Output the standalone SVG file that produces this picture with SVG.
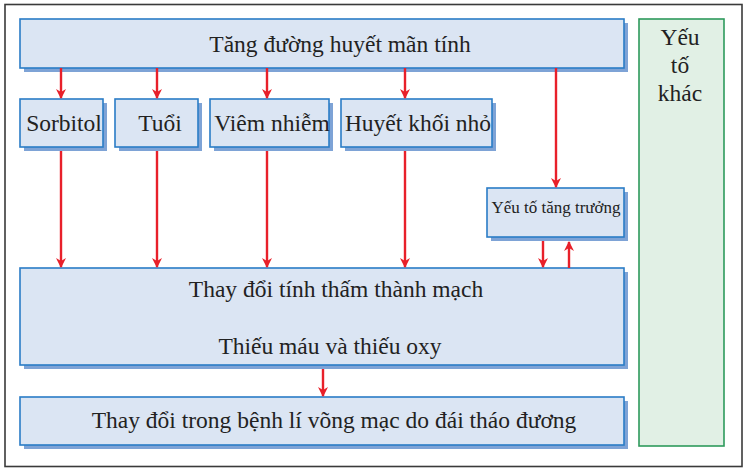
<svg xmlns="http://www.w3.org/2000/svg" width="745" height="471" viewBox="0 0 745 471">
<defs>
<style>
.box{fill:#dbe5f3;stroke:#2a7cc6;stroke-width:1.6}
.sh{fill:#7ea3d6}
.t{font-family:"Liberation Serif","Times New Roman",serif;fill:#222;text-anchor:middle;font-size:23.5px}
.s{font-size:17px}
.c{stroke:#e8202a;stroke-width:2.4;fill:none}
</style>
<marker id="ah" viewBox="0 0 10 10" refX="9" refY="5" markerWidth="10" markerHeight="10" markerUnits="userSpaceOnUse" orient="auto">
<path d="M0,0 L10,5 L0,10 L3,5 Z" fill="#e8202a"/>
</marker>
</defs>
<rect x="0" y="0" width="745" height="471" fill="#fff"/>
<rect x="5" y="4.5" width="737" height="462" fill="#fff" stroke="#3a3a3a" stroke-width="1.6"/>

<g id="top">
<rect class="sh" x="24" y="23" width="604" height="49"/>
<rect class="box" x="20" y="19" width="604" height="49"/>
<text class="t" x="340" y="52">Tăng đường huyết mãn tính</text>
</g>
<g id="sorbitol">
<rect class="sh" x="24" y="103" width="83" height="48"/>
<rect class="box" x="20" y="99" width="83" height="48"/>
<text class="t" x="64" y="131">Sorbitol</text>
</g>
<g id="tuoi">
<rect class="sh" x="119" y="103" width="83" height="48"/>
<rect class="box" x="115" y="99" width="83" height="48"/>
<text class="t" x="160" y="131">Tuổi</text>
</g>
<g id="viem">
<rect class="sh" x="214" y="103" width="119" height="48"/>
<rect class="box" x="210" y="99" width="119" height="48"/>
<text class="t" x="272" y="131">Viêm nhiễm</text>
</g>
<g id="huyetkhoi">
<rect class="sh" x="345" y="103" width="151" height="48"/>
<rect class="box" x="341" y="99" width="151" height="48"/>
<text class="t" x="418" y="131">Huyết khối nhỏ</text>
</g>
<g id="tangtruong">
<rect class="sh" x="491" y="192" width="137" height="49"/>
<rect class="box" x="487" y="188" width="137" height="49"/>
<text class="t s" x="556" y="213">Yếu tố tăng trưởng</text>
</g>
<g id="thaydoi">
<rect class="sh" x="24" y="272" width="604" height="97"/>
<rect class="box" x="20" y="268" width="604" height="97"/>
<text class="t" x="336" y="297">Thay đổi tính thấm thành mạch</text>
<text class="t" x="330" y="354">Thiếu máu và thiếu oxy</text>
</g>
<g id="benhli">
<rect class="sh" x="24" y="401" width="604" height="48"/>
<rect class="box" x="20" y="397" width="604" height="48"/>
<text class="t" x="334" y="428">Thay đổi trong bệnh lí võng mạc do đái tháo đương</text>
</g>
<g id="khac">
<rect x="639" y="19" width="85" height="427" fill="#e1f0e5" stroke="#2e9a5c" stroke-width="1.6"/>
<text class="t" x="680" y="45">Yếu</text>
<text class="t" x="680" y="73">tố</text>
<text class="t" x="680" y="101">khác</text>
</g>

<g id="connectors">
<line class="c" x1="61" y1="68" x2="61" y2="98" marker-end="url(#ah)"/>
<line class="c" x1="157" y1="68" x2="157" y2="98" marker-end="url(#ah)"/>
<line class="c" x1="267" y1="68" x2="267" y2="98" marker-end="url(#ah)"/>
<line class="c" x1="405" y1="68" x2="405" y2="98" marker-end="url(#ah)"/>
<line class="c" x1="556" y1="68" x2="556" y2="187" marker-end="url(#ah)"/>
<line class="c" x1="61" y1="151" x2="61" y2="267" marker-end="url(#ah)"/>
<line class="c" x1="157" y1="151" x2="157" y2="267" marker-end="url(#ah)"/>
<line class="c" x1="267" y1="151" x2="267" y2="267" marker-end="url(#ah)"/>
<line class="c" x1="405" y1="151" x2="405" y2="267" marker-end="url(#ah)"/>
<line class="c" x1="543" y1="241" x2="543" y2="267" marker-end="url(#ah)"/>
<line class="c" x1="569" y1="268" x2="569" y2="242" marker-end="url(#ah)"/>
<line class="c" x1="323" y1="369" x2="323" y2="396" marker-end="url(#ah)"/>
</g>
</svg>
